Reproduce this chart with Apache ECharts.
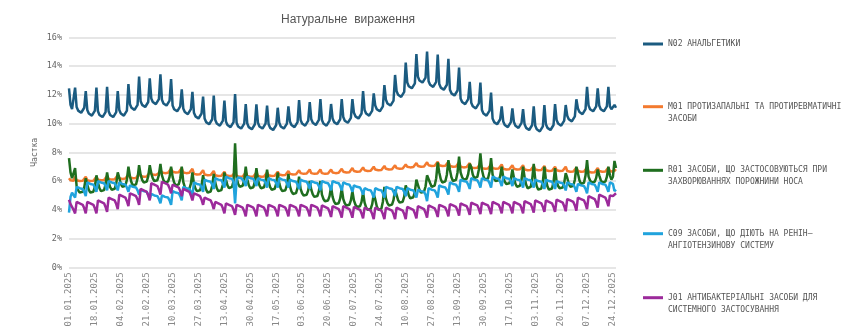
<!DOCTYPE html>
<html><head><meta charset="utf-8">
<script src="https://cdn.jsdelivr.net/npm/echarts@6/dist/echarts.min.js"></script>
<style>html,body{margin:0;padding:0;background:#fff}#c{width:850px;height:331px}</style>
</head><body><div id="c"></div>
<script>
// Categories: daily dates from 01.01.2025 (360 days)
const startDate = [2025, 0, 1];
const dayCount = 360;
const categories = [];
for (let i = 0; i < dayCount; i++) {
  const d = new Date(Date.UTC(startDate[0], startDate[1], startDate[2] + i));
  const dd = String(d.getUTCDate()).padStart(2, '0');
  const mm = String(d.getUTCMonth() + 1).padStart(2, '0');
  categories.push(dd + '.' + mm + '.' + d.getUTCFullYear());
}

const titleText = 'Натуральне  вираження';
const yAxisName = 'Частка';
const yTicks = [0, 2, 4, 6, 8, 10, 12, 14, 16];

const seriesNames = [
  'N02 АНАЛЬГЕТИКИ',
  'M01 ПРОТИЗАПАЛЬНІ ТА ПРОТИРЕВМАТИЧНІ ЗАСОБИ',
  'R01 ЗАСОБИ, ЩО ЗАСТОСОВУЮТЬСЯ ПРИ ЗАХВОРЮВАННЯХ ПОРОЖНИНИ НОСА',
  'C09 ЗАСОБИ, ЩО ДІЮТЬ НА РЕНІН–АНГІОТЕНЗИНОВУ СИСТЕМУ',
  'J01 АНТИБАКТЕРІАЛЬНІ ЗАСОБИ ДЛЯ СИСТЕМНОГО ЗАСТОСУВАННЯ'
];
const legendLines = [
  ['N02 АНАЛЬГЕТИКИ'],
  ['M01 ПРОТИЗАПАЛЬНІ ТА ПРОТИРЕВМАТИЧНІ', 'ЗАСОБИ'],
  ['R01 ЗАСОБИ, ЩО ЗАСТОСОВУЮТЬСЯ ПРИ', 'ЗАХВОРЮВАННЯХ ПОРОЖНИНИ НОСА'],
  ['C09 ЗАСОБИ, ЩО ДІЮТЬ НА РЕНІН–', 'АНГІОТЕНЗИНОВУ СИСТЕМУ'],
  ['J01 АНТИБАКТЕРІАЛЬНІ ЗАСОБИ ДЛЯ', 'СИСТЕМНОГО ЗАСТОСУВАННЯ']
];

// Shares, % (one row per week, Mon..Sun; first row starts Wed 01.01)
const n02 = [
12.45,11.3,11.0,11.1,12.5,
11.15,10.9,10.8,10.75,10.85,11.1,12.26,
10.95,10.7,10.6,10.55,10.65,10.9,12.5,
10.85,10.6,10.5,10.45,10.55,10.8,12.56,
10.85,10.6,10.5,10.45,10.55,10.8,12.26,
10.95,10.7,10.6,10.55,10.65,10.9,12.75,
11.35,11.1,11.0,10.95,11.05,11.3,13.26,
11.55,11.3,11.2,11.15,11.25,11.5,13.15,
11.75,11.5,11.4,11.35,11.45,11.7,13.42,
11.65,11.4,11.3,11.25,11.35,11.6,13.1,
11.25,11.0,10.9,10.85,10.95,11.2,12.38,
11.05,10.8,10.7,10.65,10.75,11.0,12.2,
10.75,10.5,10.4,10.35,10.45,10.7,11.87,
10.35,10.1,10.0,9.95,10.05,10.3,11.94,
10.25,10.0,9.9,9.85,9.95,10.2,11.6,
10.15,9.9,9.8,9.75,9.85,10.1,12.05,
10.05,9.8,9.7,9.65,9.75,10.0,11.36,
10.0,9.75,9.65,9.6,9.7,9.95,11.33,
10.05,9.8,9.7,9.65,9.75,10.0,11.24,
9.95,9.7,9.6,9.55,9.65,9.9,11.1,
10.05,9.8,9.7,9.65,9.75,10.0,11.2,
10.15,9.9,9.8,9.75,9.85,10.1,11.64,
10.25,10.0,9.9,9.85,9.95,10.2,11.5,
10.3,10.05,9.95,9.9,10.0,10.25,11.7,
10.25,10.0,9.9,9.85,9.95,10.2,11.36,
10.35,10.1,10.0,9.95,10.05,10.3,11.7,
10.45,10.2,10.1,10.05,10.15,10.4,11.7,
10.75,10.5,10.4,10.35,10.45,10.7,12.26,
10.95,10.7,10.6,10.55,10.65,10.9,12.1,
11.25,11.0,10.9,10.85,10.95,11.2,12.68,
11.65,11.4,11.3,11.25,11.35,11.6,13.38,
12.25,12.0,11.9,11.85,11.95,12.2,14.24,
12.85,12.6,12.5,12.45,12.55,12.8,14.84,
13.25,13.0,12.9,12.85,12.95,13.2,15.0,
12.95,12.7,12.6,12.55,12.65,12.9,14.8,
12.75,12.5,12.4,12.35,12.45,12.7,14.5,
12.35,12.1,12.0,11.95,12.05,12.3,13.9,
11.75,11.5,11.4,11.35,11.45,11.7,12.9,
11.45,11.2,11.1,11.05,11.15,11.4,12.85,
10.95,10.7,10.6,10.55,10.65,10.9,12.15,
10.35,10.1,10.0,9.95,10.05,10.3,11.2,
10.15,9.9,9.8,9.75,9.85,10.1,11.06,
10.1,9.85,9.75,9.7,9.8,10.05,11.0,
9.95,9.7,9.6,9.55,9.65,9.9,11.2,
9.85,9.6,9.5,9.45,9.55,9.8,11.29,
9.95,9.7,9.6,9.55,9.65,9.9,11.36,
10.25,10.0,9.9,9.85,9.95,10.2,11.29,
10.55,10.3,10.2,10.15,10.25,10.5,11.69,
11.05,10.8,10.7,10.65,10.75,11.0,12.56,
11.25,11.0,10.9,10.85,10.95,11.2,12.45,
11.25,11.0,10.9,10.85,10.95,11.2,12.56,
11.2,11.0,11.1,11.3,11.1
];

const m01 = [
6.2,6.05,6.0,6.02,6.3,
6.05,6.0,6.0,5.97,6.02,6.1,6.3,
6.05,6.0,6.0,5.97,6.02,6.1,6.3,
6.1,6.05,6.05,6.02,6.07,6.15,6.35,
6.15,6.1,6.1,6.07,6.12,6.2,6.4,
6.2,6.15,6.15,6.12,6.17,6.25,6.45,
6.25,6.2,6.2,6.17,6.22,6.3,6.5,
6.35,6.3,6.3,6.27,6.32,6.4,6.6,
6.5,6.45,6.45,6.42,6.47,6.55,6.75,
6.6,6.55,6.55,6.52,6.57,6.65,6.85,
6.65,6.6,6.6,6.57,6.62,6.7,6.9,
6.6,6.55,6.55,6.52,6.57,6.65,6.85,
6.5,6.45,6.45,6.42,6.47,6.55,6.75,
6.45,6.4,6.4,6.37,6.42,6.5,6.7,
6.4,6.35,6.35,6.32,6.37,6.45,6.65,
6.4,6.35,6.35,6.32,6.37,6.45,6.6,
6.35,6.3,6.3,6.27,6.32,6.4,6.6,
6.35,6.3,6.3,6.27,6.32,6.4,6.6,
6.35,6.3,6.3,6.27,6.32,6.4,6.6,
6.4,6.35,6.35,6.32,6.37,6.45,6.65,
6.45,6.4,6.4,6.37,6.42,6.5,6.7,
6.5,6.45,6.45,6.42,6.47,6.55,6.75,
6.55,6.5,6.5,6.47,6.52,6.6,6.8,
6.55,6.5,6.5,6.47,6.52,6.6,6.8,
6.55,6.5,6.5,6.47,6.52,6.6,6.8,
6.6,6.55,6.55,6.52,6.57,6.65,6.85,
6.65,6.6,6.6,6.57,6.62,6.7,6.9,
6.7,6.65,6.65,6.62,6.67,6.75,6.95,
6.75,6.7,6.7,6.67,6.72,6.8,7.0,
6.8,6.75,6.75,6.72,6.77,6.85,7.05,
6.85,6.8,6.8,6.77,6.82,6.9,7.1,
6.9,6.85,6.85,6.82,6.87,6.95,7.15,
7.0,6.95,6.95,6.92,6.97,7.05,7.25,
7.05,7.0,7.0,6.97,7.02,7.1,7.3,
7.1,7.05,7.05,7.02,7.07,7.15,7.35,
7.1,7.05,7.05,7.02,7.07,7.15,7.35,
7.05,7.0,7.0,6.97,7.02,7.1,7.3,
7.0,6.95,6.95,6.92,6.97,7.05,7.25,
6.95,6.9,6.9,6.87,6.92,7.0,7.2,
6.9,6.85,6.85,6.82,6.87,6.95,7.15,
6.9,6.85,6.85,6.82,6.87,6.95,7.15,
6.85,6.8,6.8,6.77,6.82,6.9,7.1,
6.85,6.8,6.8,6.77,6.82,6.9,7.1,
6.8,6.75,6.75,6.72,6.77,6.85,7.05,
6.8,6.75,6.75,6.72,6.77,6.85,7.05,
6.75,6.7,6.7,6.67,6.72,6.8,7.0,
6.75,6.7,6.7,6.67,6.72,6.8,7.0,
6.7,6.65,6.65,6.62,6.67,6.75,6.95,
6.7,6.65,6.65,6.62,6.67,6.75,6.95,
6.65,6.6,6.6,6.57,6.62,6.7,6.9,
6.7,6.65,6.65,6.62,6.67,6.75,6.95,
6.7,6.65,6.65,6.8,6.7
];

const r01 = [
7.6,6.6,6.2,6.3,6.9,
5.65,5.35,5.2,5.2,5.25,5.55,6.2,
5.74,5.38,5.2,5.2,5.26,5.62,6.4,
5.89,5.5,5.3,5.3,5.37,5.76,6.6,
5.94,5.58,5.4,5.4,5.46,5.82,6.6,
6.23,5.81,5.6,5.6,5.67,6.09,7.0,
6.33,5.91,5.7,5.7,5.77,6.19,7.1,
6.44,6.08,5.9,5.9,5.96,6.32,7.1,
6.54,6.18,6.0,6.0,6.06,6.42,7.2,
6.4,6.07,5.9,5.9,5.96,6.29,7.0,
6.29,5.9,5.7,5.7,5.77,6.16,7.0,
5.94,5.58,5.4,5.4,5.46,5.82,6.6,
5.8,5.47,5.3,5.3,5.36,5.69,6.4,
5.79,5.4,5.2,5.2,5.27,5.66,6.5,
5.89,5.5,5.3,5.3,5.37,5.76,6.6,
6.1,5.7,5.5,5.5,5.6,6.0,8.63,
6.23,5.81,5.6,5.6,5.67,6.09,7.0,
6.13,5.71,5.5,5.5,5.57,5.99,6.9,
6.09,5.7,5.5,5.5,5.57,5.96,6.8,
5.94,5.58,5.4,5.4,5.46,5.82,6.6,
5.84,5.48,5.3,5.3,5.36,5.72,6.5,
5.64,5.28,5.1,5.1,5.16,5.52,6.3,
5.45,5.15,5.0,5.0,5.05,5.35,6.0,
5.4,5.07,4.9,4.9,4.96,5.29,6.0,
5.05,4.75,4.6,4.6,4.65,4.95,5.6,
4.9,4.57,4.4,4.4,4.46,4.79,5.5,
4.75,4.45,4.3,4.3,4.35,4.65,5.3,
4.65,4.35,4.2,4.2,4.25,4.55,5.2,
4.5,4.17,4.0,4.0,4.06,4.39,5.1,
4.72,4.24,4.0,4.0,4.08,4.56,5.6,
4.8,4.47,4.3,4.3,4.36,4.69,5.4,
5.04,4.68,4.5,4.5,4.56,4.92,5.7,
5.39,5.0,4.8,4.8,4.87,5.26,6.1,
5.74,5.38,5.2,5.2,5.26,5.62,6.4,
6.37,5.86,5.6,5.6,5.69,6.2,7.3,
6.6,6.13,5.9,5.9,5.98,6.44,7.45,
6.77,6.26,6.0,6.0,6.09,6.6,7.7,
6.6,6.27,6.1,6.1,6.16,6.49,7.2,
6.98,6.46,6.2,6.2,6.29,6.81,7.93,
6.78,6.33,6.1,6.1,6.18,6.63,7.6,
6.45,6.15,6.0,6.0,6.05,6.35,7.0,
6.25,5.95,5.8,5.8,5.85,6.15,6.8,
6.23,5.81,5.6,5.6,5.67,6.09,7.0,
6.27,5.76,5.5,5.5,5.59,6.1,7.2,
6.12,5.64,5.4,5.4,5.48,5.96,7.0,
6.08,5.63,5.4,5.4,5.48,5.93,6.9,
5.97,5.66,5.5,5.5,5.55,5.87,6.55,
6.23,5.81,5.6,5.6,5.67,6.09,7.0,
6.54,6.05,5.8,5.8,5.88,6.38,7.45,
6.31,6.04,5.9,5.9,5.95,6.22,6.8,
6.4,6.07,5.9,5.9,5.96,6.29,7.0,
6.4,6.1,6.3,7.4,6.9
];

const c09 = [
3.8,4.9,5.2,5.1,4.85,
5.6,5.55,5.5,5.5,5.45,5.25,4.95,
5.9,5.85,5.8,5.8,5.75,5.55,5.25,
6.0,5.95,5.9,5.9,5.85,5.65,5.35,
6.0,5.95,5.9,5.9,5.85,5.65,5.35,
5.9,5.85,5.8,5.8,5.75,5.55,5.25,
5.7,5.65,5.6,5.6,5.55,5.35,5.05,
5.4,5.35,5.3,5.3,5.25,5.05,4.75,
5.1,5.05,5.0,5.0,4.95,4.75,4.45,
5.0,4.95,4.9,4.9,4.85,4.65,4.35,
5.3,5.25,5.2,5.2,5.15,4.95,4.65,
5.6,5.55,5.5,5.5,5.45,5.25,4.95,
5.9,5.85,5.8,5.8,5.75,5.55,5.25,
6.1,6.05,6.0,6.0,5.95,5.75,5.45,
6.2,6.15,6.1,6.1,6.05,5.85,5.55,
6.3,6.25,6.2,6.2,6.15,5.95,4.45,
6.1,6.25,6.2,6.2,6.15,5.95,5.65,
6.3,6.25,6.2,6.2,6.15,5.95,5.65,
6.2,6.15,6.1,6.1,6.05,5.85,5.55,
6.2,6.15,6.1,6.1,6.05,5.85,5.55,
6.2,6.15,6.1,6.1,6.05,5.85,5.55,
6.1,6.05,6.0,6.0,5.95,5.75,5.45,
6.1,6.05,6.0,6.0,5.95,5.75,5.45,
6.0,5.95,5.9,5.9,5.85,5.65,5.35,
6.0,5.95,5.9,5.9,5.85,5.65,5.35,
6.0,5.95,5.9,5.9,5.85,5.65,5.35,
5.9,5.85,5.8,5.8,5.75,5.55,5.25,
5.7,5.65,5.6,5.6,5.55,5.35,5.05,
5.5,5.45,5.4,5.4,5.35,5.15,4.85,
5.5,5.45,5.4,5.4,5.35,5.15,4.85,
5.6,5.55,5.5,5.5,5.45,5.25,4.95,
5.6,5.55,5.5,5.5,5.45,5.25,4.95,
5.5,5.45,5.4,5.4,5.35,5.15,4.85,
5.4,5.35,5.3,5.3,5.25,5.05,4.6,
5.5,5.45,5.4,5.4,5.35,5.15,4.85,
5.7,5.65,5.6,5.6,5.55,5.35,5.05,
5.9,5.85,5.8,5.8,5.75,5.55,5.25,
6.1,6.05,6.0,6.0,5.95,5.75,5.45,
6.2,6.15,6.1,6.1,6.05,5.85,5.55,
6.2,6.15,6.1,6.1,6.05,5.85,5.55,
6.3,6.25,6.2,6.2,6.15,5.95,5.65,
6.3,6.25,6.2,6.2,6.15,5.95,5.65,
6.2,6.15,6.1,6.1,6.05,5.85,5.55,
6.2,6.15,6.1,6.1,6.05,5.85,5.55,
6.1,6.05,6.0,6.0,5.95,5.75,5.45,
6.1,6.05,6.0,6.0,5.95,5.75,5.45,
6.0,5.95,5.9,5.9,5.85,5.65,5.35,
5.9,5.85,5.8,5.8,5.75,5.55,5.25,
5.8,5.75,5.7,5.7,5.65,5.45,5.15,
5.9,5.85,5.8,5.8,5.75,5.55,5.25,
5.9,5.85,5.8,5.8,5.75,5.55,5.25,
5.9,5.85,5.8,5.3,5.4
];

const j01 = [
4.7,4.4,4.3,4.0,3.75,
4.55,4.5,4.45,4.4,4.35,4.1,3.75,
4.55,4.5,4.45,4.4,4.35,4.1,3.75,
4.65,4.6,4.55,4.5,4.45,4.2,3.85,
4.85,4.8,4.75,4.7,4.65,4.4,4.05,
5.05,5.0,4.95,4.9,4.85,4.6,4.25,
5.15,5.1,5.05,5.0,4.95,4.7,4.35,
5.45,5.4,5.35,5.3,5.25,5.0,4.65,
5.85,5.8,5.75,5.7,5.65,5.4,5.05,
5.95,5.9,5.85,5.8,5.75,5.5,5.15,
5.75,5.7,5.65,5.6,5.55,5.3,4.95,
5.45,5.4,5.35,5.3,5.25,5.0,4.65,
5.15,5.1,5.05,5.0,4.95,4.7,4.35,
4.85,4.8,4.75,4.7,4.65,4.4,4.05,
4.55,4.5,4.45,4.4,4.35,4.1,3.75,
4.45,4.4,4.35,4.3,4.25,4.0,3.65,
4.35,4.3,4.25,4.2,4.15,3.9,3.55,
4.35,4.3,4.25,4.2,4.15,3.9,3.55,
4.35,4.3,4.25,4.2,4.15,3.9,3.55,
4.35,4.3,4.25,4.2,4.15,3.9,3.55,
4.35,4.3,4.25,4.2,4.15,3.9,3.55,
4.35,4.3,4.25,4.2,4.15,3.9,3.55,
4.35,4.3,4.25,4.2,4.15,3.9,3.55,
4.35,4.3,4.25,4.2,4.15,3.9,3.55,
4.3,4.25,4.2,4.15,4.1,3.85,3.5,
4.25,4.2,4.15,4.1,4.05,3.8,3.45,
4.25,4.2,4.15,4.1,4.05,3.8,3.45,
4.2,4.15,4.1,4.05,4.0,3.75,3.4,
4.15,4.1,4.05,4.0,3.95,3.7,3.35,
4.15,4.1,4.05,4.0,3.95,3.7,3.35,
4.15,4.1,4.05,4.0,3.95,3.7,3.35,
4.15,4.1,4.05,4.0,3.95,3.7,3.35,
4.2,4.15,4.1,4.05,4.0,3.75,3.4,
4.25,4.2,4.15,4.1,4.05,3.8,3.45,
4.3,4.25,4.2,4.15,4.1,3.85,3.5,
4.35,4.3,4.25,4.2,4.15,3.9,3.55,
4.4,4.35,4.3,4.25,4.2,3.95,3.6,
4.45,4.4,4.35,4.3,4.25,4.0,3.65,
4.5,4.45,4.4,4.35,4.3,4.05,3.7,
4.5,4.45,4.4,4.35,4.3,4.05,3.7,
4.55,4.5,4.45,4.4,4.35,4.1,3.75,
4.55,4.5,4.45,4.4,4.35,4.1,3.75,
4.55,4.5,4.45,4.4,4.35,4.1,3.75,
4.6,4.55,4.5,4.45,4.4,4.15,3.8,
4.65,4.6,4.55,4.5,4.45,4.2,3.85,
4.65,4.6,4.55,4.5,4.45,4.2,3.85,
4.7,4.65,4.6,4.55,4.5,4.25,3.9,
4.75,4.7,4.65,4.6,4.55,4.3,3.95,
4.85,4.8,4.75,4.7,4.65,4.4,4.05,
4.95,4.9,4.85,4.8,4.75,4.5,4.15,
5.05,5.0,4.95,4.9,4.85,4.6,4.25,
5.0,5.0,4.95,4.9,5.15
];

const seriesData = [n02, m01, r01, c09, j01];
const colors = ['#1b5b80', '#f37a2f', '#1f6e1f', '#20a3dd', '#9c2a9b'];
const legendCenters = [39, 101.7, 165.3, 228.7, 292.7];

const chart = echarts.init(document.getElementById('c'), null, {renderer: 'canvas'});
const mono = 'DejaVu Sans Mono';
const legends = seriesNames.map((name, i) => {
  const lines = legendLines[i];
  const multi = lines.length > 1;
  return {
    orient: 'vertical',
    left: 638,
    top: legendCenters[i] - (multi ? 18 : 6),
    data: [name],
    icon: 'rect',
    itemWidth: 20,
    itemHeight: 3,
    selectedMode: false,
    formatter: () => multi ? '\n' + lines.join('\n') : lines[0],
    textStyle: {fontFamily: mono, fontSize: 8, color: '#555', lineHeight: 12, padding: 0}
  };
});

chart.setOption({
  animation: false,
  color: colors,
  title: {
    text: titleText, left: 343, top: 9, textAlign: 'center',
    textStyle: {fontFamily: 'Liberation Sans', fontSize: 12, fontWeight: 'normal', color: '#555'}
  },
  legend: legends,
  grid: {left: 69, right: 234, top: 37.3, bottom: 63.7, containLabel: false},
  xAxis: {
    type: 'category', data: categories, boundaryGap: false,
    axisLine: {show: false}, axisTick: {show: false},
    axisLabel: {interval: 16, rotate: 90, margin: 5, fontFamily: mono, fontSize: 9, color: '#888'}
  },
  yAxis: {
    type: 'value', min: yTicks[0], max: yTicks[yTicks.length - 1], interval: 2,
    name: yAxisName, nameLocation: 'middle', nameGap: 30, nameRotate: 90,
    nameMoveOverlap: false,
    nameTextStyle: {fontFamily: mono, fontSize: 8, color: '#666'},
    axisLine: {show: false}, axisTick: {show: false},
    axisLabel: {formatter: '{value}%', margin: 7, fontFamily: mono, fontSize: 8.5, color: '#666'},
    splitLine: {lineStyle: {color: '#e6e6e6', width: 2}}
  },
  series: seriesNames.map((name, i) => ({
    name, type: 'line', data: seriesData[i], symbol: 'none', smooth: false,
    lineStyle: {width: 2.5, color: colors[i]}, itemStyle: {color: colors[i]}
  }))
});
</script>
</body></html>
